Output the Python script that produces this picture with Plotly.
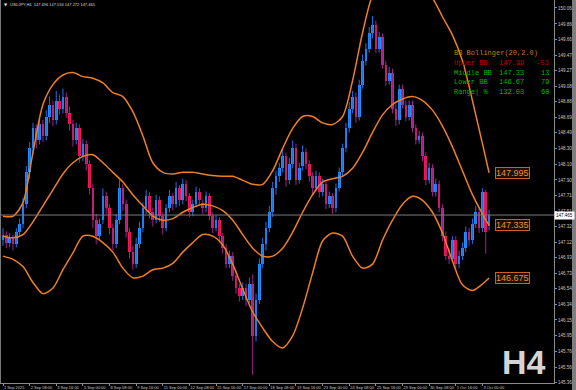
import plotly.graph_objects as go

# ---------------- data (USDJPY H4) ----------------
opens = [
    147.15, 147.22, 147.12, 147.18, 147.10, 147.25,
    147.35, 147.60, 148.00, 148.30, 148.55, 148.40,
    148.60, 148.45, 148.70, 148.85, 148.65, 148.90,
    148.80, 148.95, 148.75, 148.60, 148.40, 148.55,
    148.20, 148.35, 148.10, 147.80, 147.40, 147.20,
    147.40, 147.70, 147.55, 147.30, 147.10, 147.40,
    147.80, 147.60, 147.25, 147.00, 146.85, 147.10,
    147.30, 147.55, 147.70, 147.50, 147.40, 147.65,
    147.45, 147.30, 147.55, 147.70, 147.60, 147.80,
    147.65, 147.85, 147.70, 147.50, 147.60, 147.75,
    147.62, 147.55, 147.70, 147.45, 147.30, 147.40,
    147.20, 147.05, 146.85, 146.95, 146.70, 146.55,
    146.45, 146.55, 146.40, 146.60, 145.95, 146.40,
    146.85, 147.10, 147.30, 147.50, 147.80, 147.95,
    148.05, 148.20, 147.90, 148.10, 148.30, 147.90,
    148.08, 148.25, 148.10, 147.95, 147.80, 147.95,
    147.75, 147.85, 147.60, 147.70, 147.55, 147.80,
    148.00, 148.30, 148.55, 148.80, 148.95, 148.70,
    149.10, 149.40, 149.55, 149.75, 149.85, 149.55,
    149.70, 149.35, 149.15, 149.25, 148.80, 148.65,
    149.05, 148.85, 148.70, 148.85, 148.55, 148.40,
    148.45, 148.20, 147.90, 148.05, 147.75, 147.85,
    147.55, 147.20, 146.95, 146.92, 147.15, 146.85,
    146.95, 147.05, 147.25, 147.15, 147.35, 147.50,
    147.30, 147.75, 147.33,
]
highs = [
    147.30, 147.26, 147.24, 147.22, 147.30, 147.42,
    147.68, 148.08, 148.38, 148.62, 148.60, 148.68,
    148.66, 148.78, 148.95, 148.90, 149.02, 148.98,
    149.05, 149.00, 148.82, 148.66, 148.62, 148.60,
    148.42, 148.40, 148.15, 147.85, 147.48, 147.42,
    147.80, 147.76, 147.60, 147.36, 147.48, 147.90,
    147.85, 147.66, 147.30, 147.08, 147.18, 147.38,
    147.62, 147.78, 147.75, 147.56, 147.72, 147.70,
    147.50, 147.60, 147.78, 147.74, 147.88, 147.84,
    147.92, 147.90, 147.74, 147.66, 147.82, 147.80,
    147.66, 147.76, 147.74, 147.50, 147.46, 147.44,
    147.24, 147.10, 147.02, 147.00, 146.76, 146.60,
    146.62, 146.60, 146.68, 146.72, 146.48, 146.92,
    147.18, 147.38, 147.58, 147.88, 148.02, 148.12,
    148.30, 148.25, 148.18, 148.40, 148.36, 148.12,
    148.34, 148.30, 148.15, 148.00, 148.02, 148.00,
    147.92, 147.90, 147.76, 147.74, 147.86, 148.06,
    148.36, 148.62, 148.88, 149.02, 149.00, 149.16,
    149.48, 149.62, 149.82, 149.96, 149.90, 149.76,
    149.74, 149.40, 149.32, 149.30, 148.86, 149.10,
    149.10, 148.90, 148.90, 148.90, 148.60, 148.52,
    148.50, 148.25, 148.12, 148.10, 147.92, 147.90,
    147.60, 147.26, 147.05, 147.20, 147.20, 147.02,
    147.12, 147.32, 147.30, 147.42, 147.58, 147.56,
    147.80, 147.78, 147.534,
]
lows = [
    147.08, 147.05, 147.06, 147.02, 147.06, 147.20,
    147.30, 147.55, 147.92, 148.22, 148.30, 148.35,
    148.38, 148.40, 148.62, 148.58, 148.60, 148.72,
    148.74, 148.68, 148.52, 148.32, 148.35, 148.12,
    148.14, 148.02, 147.72, 147.30, 147.10, 147.15,
    147.35, 147.48, 147.22, 147.02, 147.05, 147.35,
    147.52, 147.18, 146.92, 146.78, 146.80, 147.05,
    147.25, 147.48, 147.42, 147.32, 147.36, 147.38,
    147.22, 147.26, 147.50, 147.52, 147.56, 147.58,
    147.60, 147.64, 147.44, 147.45, 147.56, 147.58,
    147.48, 147.50, 147.40, 147.24, 147.26, 147.14,
    146.98, 146.80, 146.80, 146.64, 146.48, 146.38,
    146.40, 146.32, 146.36, 145.46, 145.88, 146.35,
    146.80, 147.02, 147.25, 147.44, 147.72, 147.88,
    148.00, 147.82, 147.85, 148.05, 147.84, 147.86,
    148.02, 148.04, 147.88, 147.72, 147.76, 147.68,
    147.70, 147.54, 147.55, 147.48, 147.50, 147.76,
    147.95, 148.25, 148.50, 148.74, 148.62, 148.65,
    149.05, 149.34, 149.50, 149.68, 149.50, 149.50,
    149.30, 149.08, 149.10, 148.74, 148.58, 148.60,
    148.80, 148.64, 148.65, 148.50, 148.35, 148.36,
    148.14, 147.84, 147.86, 147.70, 147.70, 147.50,
    147.14, 146.90, 146.85, 146.88, 146.78, 146.80,
    146.90, 147.00, 147.08, 147.10, 147.30, 147.24,
    147.25, 146.98, 147.272,
]
closes = [
    147.22, 147.12, 147.18, 147.10, 147.25, 147.35,
    147.60, 148.00, 148.30, 148.55, 148.40, 148.60,
    148.45, 148.70, 148.85, 148.65, 148.90, 148.80,
    148.95, 148.75, 148.60, 148.40, 148.55, 148.20,
    148.35, 148.10, 147.80, 147.40, 147.20, 147.35,
    147.70, 147.55, 147.30, 147.10, 147.40, 147.80,
    147.60, 147.25, 147.00, 146.85, 147.10, 147.30,
    147.55, 147.70, 147.50, 147.40, 147.65, 147.45,
    147.30, 147.55, 147.70, 147.60, 147.80, 147.65,
    147.85, 147.70, 147.50, 147.60, 147.75, 147.65,
    147.55, 147.70, 147.45, 147.30, 147.40, 147.20,
    147.05, 146.85, 146.95, 146.70, 146.55, 146.45,
    146.55, 146.40, 146.60, 145.95, 146.40, 146.85,
    147.10, 147.30, 147.50, 147.80, 147.95, 148.05,
    148.20, 147.90, 148.10, 148.30, 147.90, 148.05,
    148.25, 148.10, 147.95, 147.80, 147.95, 147.75,
    147.85, 147.60, 147.70, 147.55, 147.80, 148.00,
    148.30, 148.55, 148.80, 148.95, 148.70, 149.10,
    149.40, 149.55, 149.75, 149.85, 149.55, 149.70,
    149.35, 149.15, 149.25, 148.80, 148.65, 149.05,
    148.85, 148.70, 148.85, 148.55, 148.40, 148.45,
    148.20, 147.90, 148.05, 147.75, 147.85, 147.55,
    147.20, 146.95, 146.92, 147.15, 146.85, 146.95,
    147.05, 147.25, 147.15, 147.35, 147.50, 147.30,
    147.75, 147.25, 147.465,
]

# Bollinger(20, 2.0) band values
band_x = [0, 3, 6, 9, 12, 15, 18, 21, 24, 27, 30, 33, 36, 39, 42, 45, 48, 51,
          54, 57, 60, 63, 66, 69, 72, 75, 78, 81, 84, 87, 90, 93, 96, 99, 102,
          105, 108, 111, 114, 117, 120, 123, 126, 129, 132, 135, 138, 141, 144, 146]
upper_bb = [147.45, 147.45, 147.62, 148.25, 148.85, 149.10, 149.22, 149.25, 149.20, 149.18,
            149.12, 149.00, 148.95, 148.76, 148.46, 148.12, 148.00, 147.98, 148.00, 148.00,
            147.98, 147.96, 147.95, 147.95, 147.90, 147.85, 147.85, 148.02, 148.30, 148.55,
            148.70, 148.70, 148.62, 148.60, 148.70, 149.15, 149.75, 150.22, 150.40, 150.45,
            150.40, 150.35, 150.28, 150.18, 149.95, 149.72, 149.40, 148.90, 148.36, 147.995]
middle_bb = [147.20, 147.18, 147.22, 147.38, 147.58, 147.78, 147.98, 148.12, 148.20, 148.22,
             148.12, 148.00, 147.88, 147.72, 147.58, 147.45, 147.40, 147.42, 147.50, 147.56,
             147.60, 147.58, 147.52, 147.40, 147.22, 147.05, 146.95, 146.95, 147.05, 147.25,
             147.50, 147.72, 147.88, 147.92, 147.95, 148.05, 148.25, 148.50, 148.72, 148.85,
             148.92, 148.95, 148.90, 148.78, 148.58, 148.32, 148.02, 147.72, 147.48, 147.335]
lower_bb = [146.95, 146.91, 146.82, 146.62, 146.48, 146.55, 146.78, 146.99, 147.20, 147.20,
            147.12, 147.00, 146.80, 146.68, 146.70, 146.78, 146.80, 146.86, 147.00, 147.12,
            147.22, 147.20, 147.09, 146.85, 146.54, 146.25, 146.05, 145.88, 145.80, 145.95,
            146.30, 146.74, 147.14, 147.24, 147.20, 146.95, 146.80, 146.85, 147.15, 147.40,
            147.60, 147.70, 147.65, 147.50, 147.24, 146.89, 146.59, 146.52, 146.60, 146.675]
band_labels = ["147.995", "147.335", "146.675"]

time_tick_pos = [0, 8, 16, 24, 32, 40, 48, 56, 64, 72, 80, 88, 96, 104, 112, 120, 128, 136, 144]
time_tick_text = ["1 Sep 2025", "2 Sep 08:00", "3 Sep 16:00", "5 Sep 00:00", "8 Sep 08:00",
                  "9 Sep 16:00", "11 Sep 00:00", "12 Sep 08:00", "15 Sep 16:00", "17 Sep 00:00",
                  "18 Sep 08:00", "19 Sep 16:00", "23 Sep 00:00", "24 Sep 08:00", "25 Sep 16:00",
                  "29 Sep 00:00", "30 Sep 08:00", "1 Oct 16:00", "3 Oct 00:00"]
price_ticks = [150.060, 149.860, 149.665, 149.470, 149.275, 149.080, 148.885, 148.690,
               148.495, 148.300, 148.100, 147.905, 147.710, 147.515, 147.320, 147.125,
               146.930, 146.735, 146.540, 146.345, 146.150, 145.950, 145.760, 145.560, 145.365]
current_price = 147.465

legend_title = "BB Bollinger(20,2.0)"
legend_rows = ["Upper BB", "Middle BB", "Lower BB", "Range| %"]
legend_vals = ["147.99", "147.33", "146.67", "132.03"]
legend_pts = ["-53", "13", "79", "60"]
legend_cols = ["#C40000", "#00B400", "#00B400", "#00B400"]

chart_title = "USDJPY,H4  147.496 147.534 147.272 147.465"

# ---------------- style ----------------
W, H = 576, 390
ML, MR, MT, MB = 0, 22, 0, 7
PW, PH = W - ML - MR, H - MT - MB
BULL_BODY, BEAR_BODY = "#1E90FF", "#F5165A"
BULL_WICK, BEAR_WICK = "#1E6FE8", "#A0208C"
BAND = "#EE7F22"
AXIS = "#8A8A8A"


def px_x(p):
    return p / PW


def px_y(p):
    return 1 - p / PH


n = len(closes)
idx = list(range(n))

fig = go.Figure()

# wicks
for bull, col in ((True, BULL_WICK), (False, BEAR_WICK)):
    xs, ys = [], []
    for i in idx:
        if (closes[i] >= opens[i]) == bull:
            xs += [i, i, None]
            ys += [lows[i], highs[i], None]
    fig.add_trace(go.Scatter(x=xs, y=ys, mode="lines", line=dict(color=col, width=1),
                             hoverinfo="skip", showlegend=False))

# bodies
base = [min(o, c) for o, c in zip(opens, closes)]
height = [max(abs(c - o), 0.012) for o, c in zip(opens, closes)]
colors = [BULL_BODY if c >= o else BEAR_BODY for o, c in zip(opens, closes)]
fig.add_trace(go.Bar(x=idx, y=height, base=base, width=0.8,
                     marker=dict(color=colors, line=dict(width=0)),
                     showlegend=False, hoverinfo="skip"))

# Bollinger bands
for vals in (upper_bb, middle_bb, lower_bb):
    fig.add_trace(go.Scatter(x=band_x, y=vals, mode="lines",
                             line=dict(color=BAND, width=1.5, shape="spline", smoothing=0.8),
                             showlegend=False, hoverinfo="skip"))

ann = []
# band end labels
for vals, lab in zip((upper_bb, middle_bb, lower_bb), band_labels):
    ann.append(dict(x=147.8, y=vals[-1], xref="x", yref="y", text=lab, showarrow=False,
                    xanchor="left", yanchor="middle",
                    font=dict(family="Liberation Sans", size=9, color="#F08A2E"),
                    bgcolor="#1E0F02", bordercolor="#C8621C", borderwidth=1, borderpad=0))

# indicator legend
MONO = "Liberation Mono"
ann.append(dict(x=px_x(452), y=px_y(53), xref="paper", yref="paper", text=legend_title,
                showarrow=False, xanchor="left", yanchor="middle",
                font=dict(family=MONO, size=7, color="#C8781E")))
for k in range(len(legend_rows)):
    yy = px_y(63 + 9.7 * k)
    ann.append(dict(x=px_x(452), y=yy, xref="paper", yref="paper", text=legend_rows[k],
                    showarrow=False, xanchor="left", yanchor="middle",
                    font=dict(family=MONO, size=7, color=legend_cols[k])))
    ann.append(dict(x=px_x(497), y=yy, xref="paper", yref="paper", text=legend_vals[k],
                    showarrow=False, xanchor="left", yanchor="middle",
                    font=dict(family=MONO, size=7, color=legend_cols[k])))
    ann.append(dict(x=px_x(551), y=yy, xref="paper", yref="paper", text=legend_pts[k],
                    showarrow=False, xanchor="right", yanchor="middle",
                    font=dict(family=MONO, size=7, color=legend_cols[k])))

# current price tag
ann.append(dict(x=1.0, y=current_price, xref="paper", yref="y", text="147.465",
                showarrow=False, xanchor="left", yanchor="middle",
                font=dict(family="Liberation Sans", size=4.5, color="#000000"),
                bgcolor="#FFFFFF", borderpad=1))

# timeframe watermark
ann.append(dict(x=px_x(548), y=px_y(362), xref="paper", yref="paper", text="<b>H4</b>",
                showarrow=False, xanchor="right", yanchor="middle",
                font=dict(family="Liberation Sans", size=34, color="#D4D4D4")))

# chart header
ann.append(dict(x=px_x(2), y=px_y(4), xref="paper", yref="paper", text="▼",
                showarrow=False, xanchor="left", yanchor="middle",
                font=dict(family="DejaVu Sans", size=4, color="#E0E0E0")))
ann.append(dict(x=px_x(8), y=px_y(4), xref="paper", yref="paper", text=chart_title,
                showarrow=False, xanchor="left", yanchor="middle",
                font=dict(family="Liberation Sans", size=4, color="#D8D8D8")))

shapes = [
    dict(type="line", xref="paper", yref="y", x0=0, x1=1, y0=current_price, y1=current_price,
         line=dict(color="#7A7A7A", width=1)),
    dict(type="line", xref="paper", yref="paper", x0=0.0009, x1=0.0009, y0=0, y1=1,
         line=dict(color="#7A7A7A", width=1)),
    dict(type="rect", xref="paper", yref="paper", x0=px_x(572), x1=px_x(577), y0=-0.03, y1=1.0,
         fillcolor="#7E7E7E", line=dict(width=0), layer="above"),
]

fig.update_layout(
    width=W, height=H,
    margin=dict(l=ML, r=MR, t=MT, b=MB),
    paper_bgcolor="#000000", plot_bgcolor="#000000",
    showlegend=False, bargap=0,
    annotations=ann, shapes=shapes,
    xaxis=dict(range=[-0.9, 165.5], showgrid=False, zeroline=False,
               showline=True, linecolor=AXIS, linewidth=1,
               tickmode="array", tickvals=time_tick_pos, ticktext=time_tick_text,
               ticks="outside", ticklen=2, tickcolor=AXIS, tickangle=0,
               ticklabelposition="outside right",
               tickfont=dict(family="Liberation Sans", size=4, color="#C8C8C8")),
    yaxis=dict(range=[145.36, 150.16], side="right", showgrid=False, zeroline=False,
               showline=True, linecolor=AXIS, linewidth=1,
               tickmode="array", tickvals=price_ticks,
               ticktext=[f"{v:.3f}" for v in price_ticks],
               ticks="outside", ticklen=2, tickcolor=AXIS,
               tickfont=dict(family="Liberation Sans", size=4.5, color="#C8C8C8")),
)

fig.write_html("out.html")
